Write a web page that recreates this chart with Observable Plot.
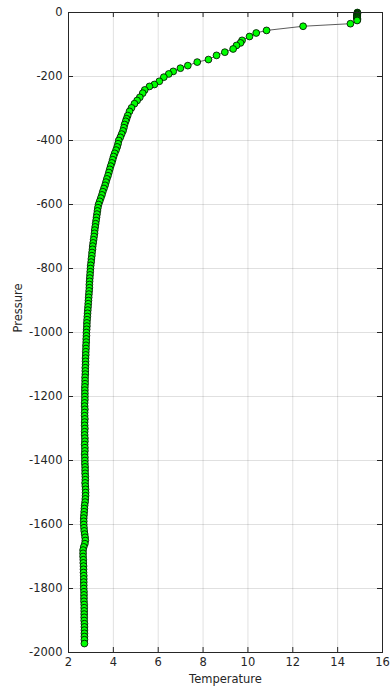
<!DOCTYPE html>
<html>
<head>
<meta charset="utf-8">
<script src="https://cdn.jsdelivr.net/npm/d3@7"></script>
<script src="https://cdn.jsdelivr.net/npm/@observablehq/plot@0.6"></script>
<style>
  html, body { margin: 0; padding: 0; background: #fff; }
  #chart { width: 392px; height: 698px; }
</style>
</head>
<body>
<div id="chart"></div>
<script>
// Pressure (dbar, negative downward) and Temperature
const pressure = [
  0, -2, -4, -6, -8, -10, -12, -14, -16, -18, -20, -23, -25,
  -35, -43, -56, -64, -75, -87, -95, -103, -114, -124, -134, -147, -155, -166,
  -174, -184, -192, -202, -215, -225, -231, -242, -252, -265, -275, -285, -298,
  -309, -322, -332,
  -340, -350, -360, -370, -380, -390, -400, -410, -420, -430, -440, -450, -460,
  -470, -480, -490, -500, -510, -520, -530, -540, -550, -560, -570, -580, -590,
  -600, -610, -620, -630, -640, -650, -660, -670, -680, -690, -700, -710, -720,
  -730, -740, -750, -760, -770, -780, -790, -800, -810, -820, -830, -840, -850,
  -860, -870, -880, -890, -900, -910, -920, -930, -940, -950, -960, -970, -980,
  -990, -1000, -1010, -1020, -1030, -1040, -1050, -1060, -1070, -1080, -1090,
  -1100, -1110, -1120, -1130, -1140, -1150, -1160, -1170, -1180, -1190, -1200,
  -1210, -1220, -1230, -1240, -1250, -1260, -1270, -1280, -1290, -1300, -1310,
  -1320, -1330, -1340, -1350, -1360, -1370, -1380, -1390, -1400, -1410, -1420,
  -1430, -1440, -1450, -1460, -1470, -1480, -1490, -1500, -1510, -1520, -1530,
  -1540, -1550, -1560, -1570, -1580, -1590, -1600, -1610, -1620, -1630, -1640,
  -1650, -1660, -1670, -1680, -1690, -1700, -1710, -1720, -1730, -1740, -1750,
  -1760, -1770, -1780, -1790, -1800, -1810, -1820, -1830, -1840, -1850, -1860,
  -1870, -1880, -1890, -1900, -1910, -1920, -1930, -1940, -1950, -1960, -1972
];
const temperature = [
  14.88, 14.88, 14.88, 14.87, 14.87, 14.87, 14.87, 14.87, 14.86, 14.87, 14.88, 14.88, 14.87,
  14.57, 12.46, 10.83, 10.37, 10.07, 9.74, 9.67, 9.49, 9.34, 8.97, 8.60, 8.24, 7.74, 7.32,
  6.99, 6.67, 6.47, 6.25, 6.05, 5.83, 5.61, 5.40, 5.31, 5.18, 5.06, 4.94, 4.81,
  4.72, 4.64, 4.59,
  4.55, 4.50, 4.47, 4.43, 4.37, 4.31, 4.24, 4.21, 4.17, 4.12, 4.06, 4.01, 3.97,
  3.93, 3.88, 3.84, 3.80, 3.76, 3.71, 3.67, 3.63, 3.58, 3.53, 3.49, 3.44, 3.39,
  3.34, 3.31, 3.29, 3.27, 3.25, 3.23, 3.21, 3.19, 3.17, 3.16, 3.14, 3.12, 3.10,
  3.08, 3.07, 3.05, 3.04, 3.02, 3.01, 2.99, 2.98, 2.97, 2.96, 2.95, 2.94, 2.93,
  2.93, 2.92, 2.91, 2.90, 2.89, 2.88, 2.87, 2.86, 2.85, 2.84, 2.83, 2.82, 2.82,
  2.81, 2.80, 2.80, 2.79, 2.79, 2.78, 2.78, 2.77, 2.77, 2.76, 2.76,
  2.76, 2.75, 2.75, 2.75, 2.74, 2.74, 2.74, 2.73, 2.73, 2.73, 2.73,
  2.73, 2.72, 2.72, 2.73, 2.72, 2.72, 2.73, 2.72, 2.72, 2.73, 2.72,
  2.72, 2.73, 2.73, 2.72, 2.73, 2.73, 2.72, 2.73, 2.73, 2.73, 2.74,
  2.74, 2.74, 2.75, 2.75, 2.74, 2.75, 2.76, 2.76, 2.76, 2.75, 2.74,
  2.72, 2.71, 2.70, 2.69, 2.68, 2.68, 2.68, 2.69, 2.70, 2.72, 2.74,
  2.75, 2.73, 2.68, 2.65, 2.65, 2.65, 2.66, 2.66, 2.67, 2.67, 2.67,
  2.68, 2.68, 2.68, 2.68, 2.68, 2.69, 2.69, 2.69, 2.69, 2.70, 2.70,
  2.70, 2.70, 2.70, 2.70, 2.71, 2.71, 2.71, 2.71, 2.71, 2.71, 2.71
];
const xTicks = [2, 4, 6, 8, 10, 12, 14, 16];
const yTicks = [0, -200, -400, -600, -800, -1000, -1200, -1400, -1600, -1800, -2000];
const xLabel = "Temperature";
const yLabel = "Pressure";

const n = Math.min(pressure.length, temperature.length);
const profile = d3.range(n).map(i => ({T: temperature[i], P: pressure[i]}));

const W = 392, H = 698;
const mTop = 12, mRight = 10, mBottom = 46, mLeft = 68;
const plotW = W - mLeft - mRight, plotH = H - mTop - mBottom;
const axisColor = "#262626";
const tickLen = 5;

const chart = Plot.plot({
  width: W,
  height: H,
  marginTop: mTop,
  marginRight: mRight,
  marginBottom: mBottom,
  marginLeft: mLeft,
  style: {fontFamily: "'DejaVu Sans', sans-serif", fontSize: "11.5px", color: axisColor, background: "#fff"},
  x: {domain: [2, 16], label: null},
  y: {domain: [-2000, 0], label: null},
  marks: [
    Plot.gridX(xTicks, {stroke: "#000", strokeOpacity: 0.12}),
    Plot.gridY(yTicks, {stroke: "#000", strokeOpacity: 0.12}),
    Plot.axisX(xTicks, {tickSize: 0, tickPadding: 5, tickFormat: d => String(d), fill: axisColor, fontSize: 11.5}),
    Plot.axisY(yTicks, {tickSize: 0, tickPadding: 6, tickFormat: d => String(d), fill: axisColor, fontSize: 11.5}),
    Plot.ruleX(xTicks, {stroke: axisColor, insetTop: plotH - tickLen}),
    Plot.ruleX(xTicks, {stroke: axisColor, insetBottom: plotH - tickLen}),
    Plot.ruleY(yTicks, {stroke: axisColor, insetRight: plotW - tickLen}),
    Plot.ruleY(yTicks, {stroke: axisColor, insetLeft: plotW - tickLen}),
    Plot.line(profile, {x: "T", y: "P", stroke: "#4a4a4a", strokeWidth: 0.9}),
    Plot.dot(profile, {x: "T", y: "P", r: 3.4, fill: "#00ff00", stroke: "#000", strokeWidth: 0.8}),
    Plot.frame({stroke: axisColor}),
    Plot.text([xLabel], {frameAnchor: "bottom", dy: 30, fill: axisColor, fontSize: 11.5}),
    Plot.text([yLabel], {frameAnchor: "left", dx: -50, rotate: -90, fill: axisColor, fontSize: 11.5})
  ]
});
document.getElementById("chart").appendChild(chart);
</script>
</body>
</html>
